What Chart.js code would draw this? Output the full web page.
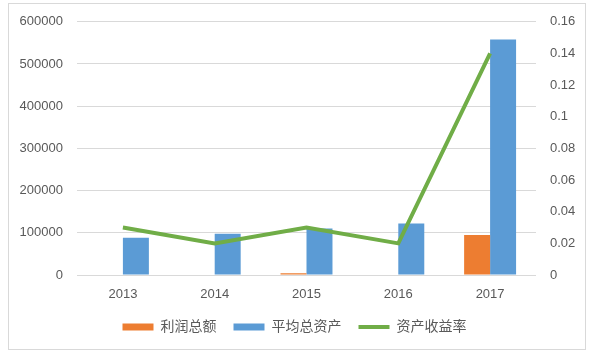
<!DOCTYPE html>
<html lang="zh">
<head>
<meta charset="UTF-8">
<title>资产收益率</title>
<script src="https://cdn.jsdelivr.net/npm/chart.js"></script>
<style>
  body { margin: 0; background: #ffffff; }
  .wrap { position: relative; width: 589px; height: 359px; }
  .frame { position: absolute; left: 8px; top: 3px; width: 578px; height: 347px;
           border: 1px solid #d9d9d9; box-sizing: border-box; }
  canvas { position: absolute; left: 0; top: 0; }
</style>
</head>
<body>
<div class="wrap">
  <div class="frame"></div>
  <canvas id="chart" width="589" height="359"></canvas>
</div>
<script>
// data
const years = ['2013', '2014', '2015', '2016', '2017'];
const profit = [0, 0, 4000, 0, 95000];            // 利润总额
const avgAssets = [88000, 98000, 110000, 122000, 558000]; // 平均总资产
const roa = [0.03, 0.02, 0.03, 0.02, 0.14];        // 资产收益率

Chart.defaults.font.family = "'Liberation Sans', 'Noto Sans CJK SC', sans-serif";
Chart.defaults.color = '#595959';

const ctx = document.getElementById('chart').getContext('2d');
new Chart(ctx, {
  type: 'bar',
  data: {
    labels: years,
    datasets: [
      { label: '利润总额', data: profit, backgroundColor: '#ed7d31', yAxisID: 'y', order: 1,
        categoryPercentage: 0.566, barPercentage: 1 },
      { label: '平均总资产', data: avgAssets, backgroundColor: '#5b9bd5', yAxisID: 'y', order: 1,
        categoryPercentage: 0.566, barPercentage: 1 },
      { type: 'line', label: '资产收益率', data: roa, borderColor: '#70ad47', backgroundColor: '#70ad47',
        borderWidth: 4, pointRadius: 0, tension: 0, yAxisID: 'y1', order: 0 }
    ]
  },
  options: {
    responsive: false,
    animation: false,
    layout: { padding: { top: 21, bottom: 15, left: 0, right: 0 } },
    plugins: {
      tooltip: { enabled: false },
      legend: {
        position: 'bottom',
        labels: {
          font: { size: 14 },
          padding: 17,
          usePointStyle: true,
          pointStyleWidth: 31,
          boxHeight: 7,
          sort: (a, b) => a.datasetIndex - b.datasetIndex,
          generateLabels(chart) {
            return chart.data.datasets.map((ds, i) => ({
              text: ds.label,
              datasetIndex: i,
              fillStyle: ds.backgroundColor,
              strokeStyle: ds.type === 'line' ? ds.borderColor : ds.backgroundColor,
              lineWidth: ds.type === 'line' ? 4 : 0,
              pointStyle: ds.type === 'line' ? 'line' : 'rect',
              fontColor: '#595959',
              hidden: false
            }));
          }
        }
      }
    },
    scales: {
      x: {
        grid: { display: false, drawTicks: false },
        border: { display: false },
        ticks: { font: { size: 13 }, padding: 12 },
        afterFit(scale) { scale.height = 28; }
      },
      y: {
        position: 'left',
        min: 0, max: 600000,
        ticks: { stepSize: 100000, font: { size: 13 }, padding: 14, callback: v => String(v) },
        grid: { color: '#d9d9d9', drawTicks: false },
        border: { display: false },
        afterFit(scale) { scale.width = 77; }
      },
      y1: {
        position: 'right',
        min: 0, max: 0.16,
        ticks: { stepSize: 0.02, font: { size: 13 }, padding: 14, callback: v => String(+v.toFixed(2)) },
        grid: { display: false, drawTicks: false },
        border: { display: false },
        afterFit(scale) { scale.width = 53; }
      }
    }
  }
});
</script>
</body>
</html>
